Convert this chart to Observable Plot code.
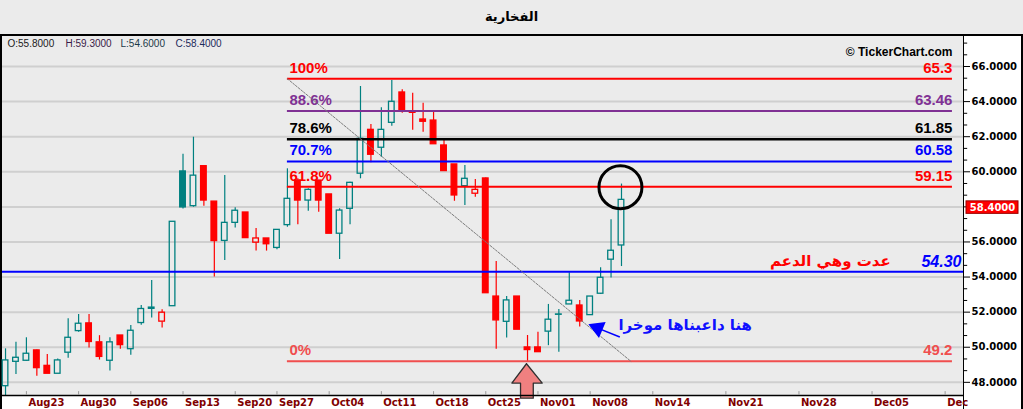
<!DOCTYPE html>
<html><head><meta charset="utf-8">
<script src="https://cdn.jsdelivr.net/npm/d3@7"></script>
<script src="https://cdn.jsdelivr.net/npm/@observablehq/plot@0.6"></script>
<style>
html,body{margin:0;padding:0;background:#ebebeb;}
body{width:1023px;height:409px;overflow:hidden;position:relative;}
#title{position:absolute;left:0;top:0;width:1023px;height:34px;}
#title span{position:absolute;left:0;right:0;top:9px;text-align:center;font:bold 13px/16px "DejaVu Sans",sans-serif;color:#000;}
#frame{position:absolute;left:0;top:34px;border-top:2px solid #000;border-left:2px solid #000;border-right:2px solid #000;width:1019px;height:373px;}
#frame svg{display:block;}
</style></head><body>
<div id="title"><span>الفخارية</span></div>
<div id="frame"></div>
<script>
// ---- data (trading-day index 0..59, Aug 19 .. Nov 11) ----
const opens  = [47.78,49.17,49.23,49.82,48.94,48.49,49.69,50.92,51.36,50.28,49.23,50.67,49.89,51.38,52.26,51.46,52.34,60.02,58.04,60.32,58.30,56.06,57.09,57.68,55.96,56.20,55.66,56.96,59.50,58.36,59.50,58.71,56.47,57.89,59.89,62.39,61.37,62.79,64.52,63.45,62.98,62.92,61.50,60.42,59.18,58.75,59.62,52.89,51.45,52.89,49.99,49.99,50.89,51.85,52.44,52.38,51.83,53.05,54.99,55.80];
const highs  = [49.91,50.29,50.54,49.85,49.59,49.33,51.62,51.87,51.87,50.66,50.54,50.67,51.24,52.38,53.81,52.14,57.15,61.00,61.97,60.32,58.30,59.79,57.95,57.68,56.77,56.20,56.69,60.17,59.60,59.03,59.50,58.71,57.90,59.40,64.86,62.70,63.65,65.20,64.67,64.48,63.91,63.49,61.82,60.42,60.36,59.56,59.65,54.89,52.89,52.89,50.67,50.86,52.44,52.15,54.24,52.67,52.89,54.53,57.27,59.30];
const lows   = [47.20,48.45,49.20,48.35,48.49,48.49,49.38,50.86,49.95,49.27,48.64,49.89,49.55,51.26,51.66,51.09,52.34,57.88,57.98,58.04,54.00,54.95,56.79,56.22,55.48,55.48,55.55,56.84,56.98,57.75,57.69,56.47,55.00,56.98,59.60,60.51,60.83,62.60,63.34,62.37,62.26,61.57,60.04,58.32,58.08,58.55,53.08,49.89,50.52,51.00,49.15,49.72,50.09,49.72,52.44,51.15,51.83,53.00,53.94,54.60];
const closes = [49.25,49.40,49.63,48.81,48.49,49.25,50.54,51.34,50.30,49.45,50.28,50.12,50.94,52.18,52.19,51.97,57.15,57.97,59.78,58.36,56.05,57.09,57.78,56.22,56.20,55.87,56.69,58.46,58.36,58.97,58.36,56.47,57.79,59.37,61.88,60.97,62.39,63.99,63.45,63.36,62.85,61.57,60.04,58.65,59.60,58.97,53.08,51.53,52.67,51.00,49.84,49.72,51.57,51.87,52.65,51.47,52.89,53.96,55.50,58.40];

const xTickIdx    = [2,7,12,17,22,26,31,36,41,46,51,56,62,69,76,83,90];
const xTickLabels = ["Aug23","Aug30","Sep06","Sep13","Sep20","Sep27","Oct04","Oct11","Oct18","Oct25","Nov01","Nov08","Nov14","Nov21","Nov28","Dec05","Dec"];
const yTicks = [48,50,52,54,56,58,60,62,64,66];

const fibPct   = ["100%","88.6%","78.6%","70.7%","61.8%","0%"];
const fibVal   = [65.3,63.46,61.85,60.58,59.15,49.2];
const fibText  = ["65.3","63.46","61.85","60.58","59.15","49.2"];
const fibColor = ["#ff0000","#803194","#000000","#0000ff","#ff0000","#f04e4e"];
const fibStart = 27, fibEnd = 90.7;

const supportVal = 54.30;
const trendPts = [{x:27,y:65.3},{x:59.9,y:49.2}];
const lastOHLC = {o:55.8,h:59.3,l:54.6,c:58.4};

const noteRed  = {x:79.0, y:54.91, text:"عدت وهي الدعم"};
const noteBlue = {x:65.1, y:51.24, text:"هنا داعبناها موخرا"};
const blueArrow = {x1:58.84, y1:50.58, x2:56.72, y2:51.09};
const blueHead  = {x:56.72, y:51.09};
const circleMark = {x:58.9, y:59.12};
const pinkArrow = [[49.9,49.06],[51.41,47.96],[50.55,47.96],[50.55,47.1],[49.33,47.1],[49.33,47.96],[48.5,47.96],[49.9,49.06]];

// ---- derived ----
const TEAL = "#008080", RED = "#ff0000";
const candles = opens.map((o,i)=>{
  const c = closes[i];
  const up = i===0 || c >= closes[i-1];
  return {i, open:o, high:highs[i], low:lows[i], close:c,
    top:Math.max(o,c), bot:Math.min(o,c),
    color: up?TEAL:RED, filled: c<o};
});
const xDomain = [-0.29, 91.76];
const yDomain = [47.25, 67.71];
const xMax = xDomain[1];
const minorTicks = d3.range(48, 67.6, 2/3).filter(v => Math.abs(v-Math.round(v/2)*2) > 0.1);
const fib = fibVal.map((v,k)=>({v, pct:fibPct[k], txt:fibText[k], col:fibColor[k]}));
const ticksX = xTickIdx.map((x,k)=>({x, label:xTickLabels[k]}));

const marks = [
  Plot.ruleY(yTicks, {stroke:"#cfcfcf", strokeWidth:2}),
  // wicks
  Plot.ruleX(candles, {x:"i", y1:"top", y2:"high", stroke:"color", strokeWidth:1.2}),
  Plot.ruleX(candles, {x:"i", y1:"low", y2:"bot", stroke:"color", strokeWidth:1.2}),
  // bodies
  Plot.rect(candles, {x1:d=>d.i-0.27, x2:d=>d.i+0.27, y1:"open", y2:"close",
    fill:d=>d.filled?d.color:"none", stroke:"color", strokeWidth:1.3}),
  // fib levels
  Plot.ruleY(fib, {y:"v", x1:fibStart, x2:fibEnd, stroke:"col", strokeWidth:d=>d.col==="#000000"?2.5:2}),
  Plot.text(fib, {x:fibStart, y:"v", text:"pct", fill:"col", dx:2, dy:-11, textAnchor:"start",
    fontFamily:"Liberation Sans", fontSize:15}),
  Plot.text(fib, {x:fibEnd, y:"v", text:"txt", fill:"col", dy:-11, textAnchor:"end",
    fontFamily:"Liberation Sans", fontSize:15}),
  // support line
  Plot.ruleY([supportVal], {stroke:"#0000ff", strokeWidth:2}),
  Plot.text([supportVal], {x:xMax, y:d=>d, text:d=>d.toFixed(2), fill:"#0000ff", dx:-2, dy:-10,
    textAnchor:"end", fontFamily:"Liberation Sans", fontSize:16, fontStyle:"italic", fontWeight:"bold"}),
  // trend line
  Plot.line(trendPts, {x:"x", y:"y", stroke:"#7a7a7a", strokeWidth:1, strokeDasharray:"2,1.5"}),
  // circle
  Plot.dot([circleMark], {x:"x", y:"y", r:21.5, stroke:"#000", strokeWidth:3, fill:"none"}),
  // notes
  Plot.text([noteRed], {x:"x", y:"y", text:"text", fill:"#ff0000", fontFamily:"DejaVu Sans", fontSize:15, fontWeight:"bold"}),
  Plot.text([noteBlue], {x:"x", y:"y", text:"text", fill:"#1010ff", fontFamily:"DejaVu Sans", fontSize:15, fontWeight:"bold"}),
  Plot.link([blueArrow], {x1:"x1", y1:"y1", x2:"x2", y2:"y2", stroke:"#0000ff", strokeWidth:1.6}),
  Plot.dot([blueHead], {x:"x", y:"y", symbol:"triangle", r:5.5, rotate:-67.5, fill:"#0000ff", stroke:"#0000ff"}),
  Plot.line(pinkArrow, {x:d=>d[0], y:d=>d[1], fill:"#f08080", stroke:"#303030", strokeWidth:1.3}),
  // x axis line and ticks
  Plot.ruleY([yDomain[0]], {stroke:"#000", strokeWidth:1.5}),
  Plot.ruleX(ticksX, {x:"x", y1:yDomain[0], y2:yDomain[0]+0.22, stroke:"#9a9a9a"}),
  Plot.text(ticksX, {x:"x", text:"label", frameAnchor:"bottom", lineAnchor:"middle", dy:7, dx:2, textAnchor:"start",
    fill:"#800000", fontFamily:"DejaVu Sans", fontSize:10, fontWeight:"bold"}),
  // right axis minor ticks
  Plot.ruleY(minorTicks, {x1:xMax, x2:xMax+0.4, stroke:"#000"}),
  // price label
  Plot.rect([lastOHLC.c], {x1:xMax, x2:xMax, y1:d=>d, y2:d=>d, insetLeft:3, insetRight:-55, insetTop:1.5, insetBottom:-14,
    fill:"#ff0000", stroke:"#900"}),
  Plot.text([lastOHLC.c], {x:xMax, y:d=>d, text:d=>d.toFixed(4), dx:29, dy:8, fill:"#fff",
    fontFamily:"DejaVu Sans", fontSize:10, fontWeight:"bold"}),
  // header texts
  Plot.text(["© TickerChart.com"], {frameAnchor:"top-right", lineAnchor:"middle", dx:-11, dy:16, textAnchor:"end",
    fontFamily:"Liberation Sans", fontSize:12, fontWeight:"bold", fill:"#000"})
];
const ohlcParts = [["O:"+lastOHLC.o.toFixed(4),"#202020",5],["H:"+lastOHLC.h.toFixed(4),"#3a1c48",63],
                   ["L:"+lastOHLC.l.toFixed(4),"#1c3a48",118],["C:"+lastOHLC.c.toFixed(4),"#1c2a5a",173]];
for (const [t,col,off] of ohlcParts) {
  marks.push(Plot.text([t], {frameAnchor:"top-left", lineAnchor:"middle", dx:off, dy:7, textAnchor:"start", fill:col,
    fontFamily:"Liberation Sans", fontSize:10, fontWeight:"normal"}));
}

const chart = Plot.plot({
  width:1019, height:373,
  marginTop:0, marginLeft:0, marginRight:58, marginBottom:14,
  x:{domain:xDomain, axis:null},
  y:{domain:yDomain, axis:"right", ticks:yTicks, tickFormat:d=>d.toFixed(4), tickSize:6, tickPadding:2, label:null},
  color:{type:"identity"},
  style:{
    fontFamily:"DejaVu Sans", fontSize:"10px", fontWeight:"bold", color:"#000", overflow:"visible",
    background:"linear-gradient(to right,#ebebeb 0,#ebebeb 961px,#000 961px,#000 962px,#fff 962px) top left/100% 359px no-repeat, linear-gradient(to right,#fff 0,#fff 961px,#000 961px,#000 962px,#fff 962px) bottom left/100% 14px no-repeat"
  },
  marks
});
document.getElementById("frame").appendChild(chart);
</script></body></html>
